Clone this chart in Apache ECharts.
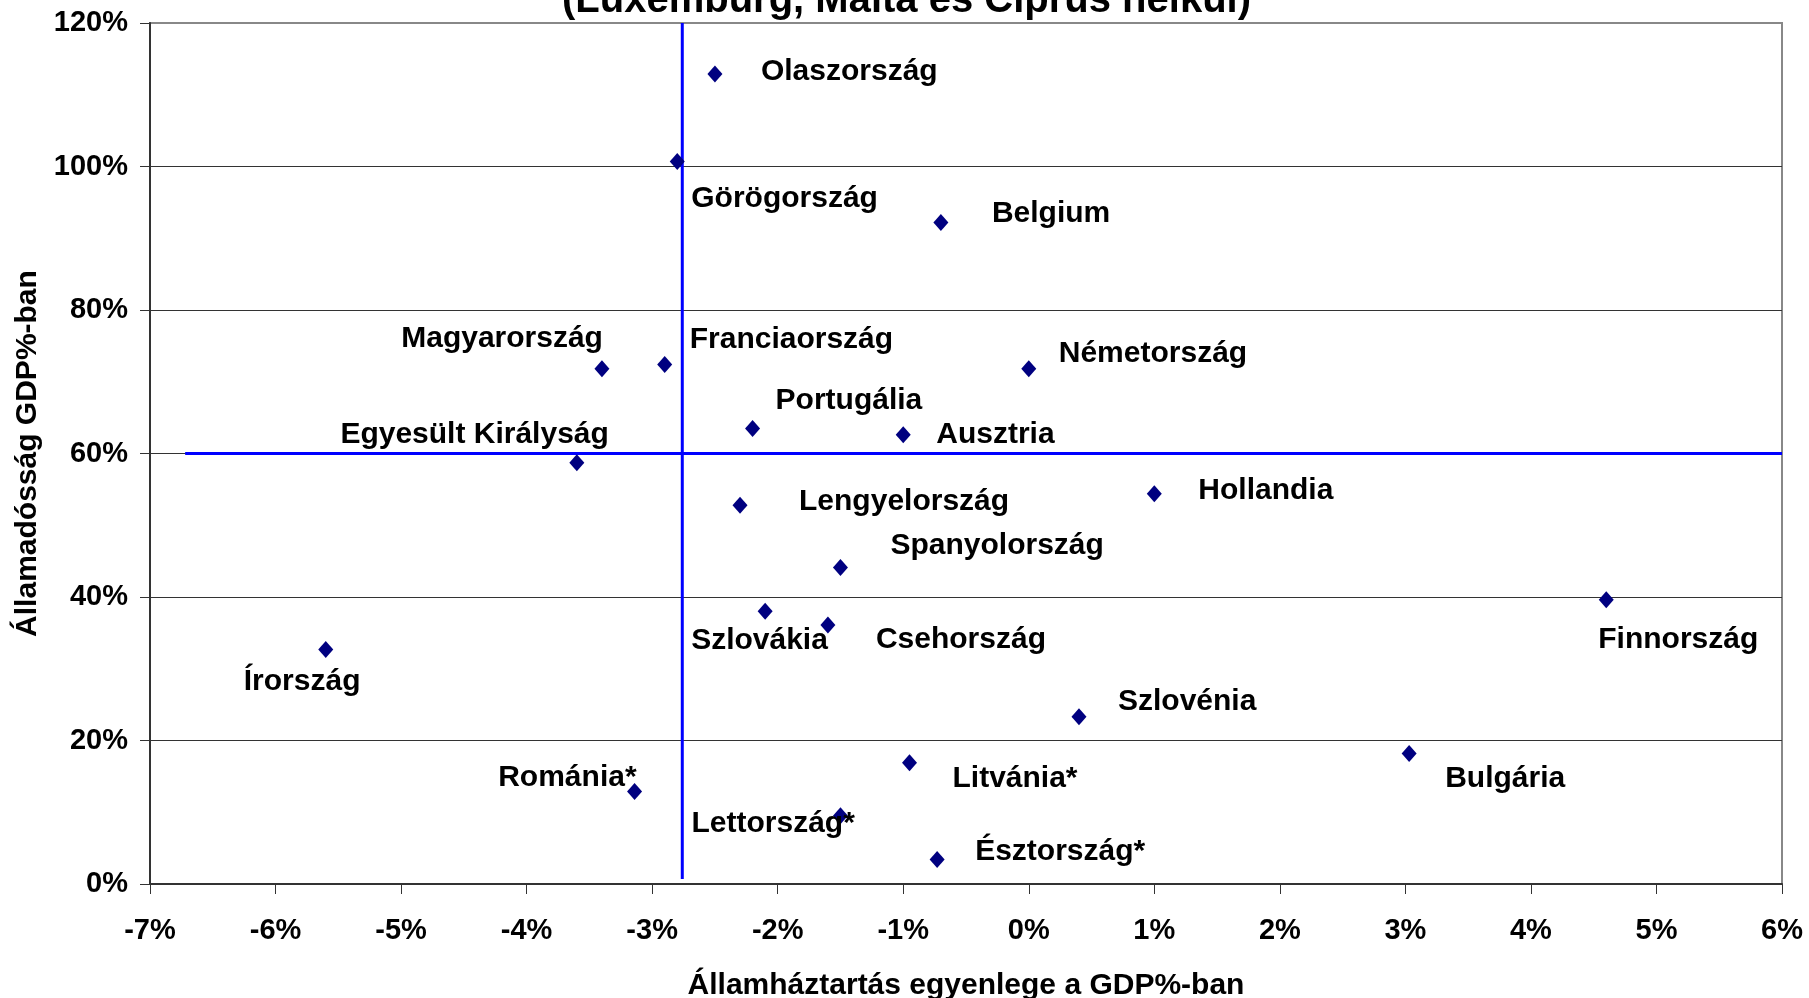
<!DOCTYPE html>
<html>
<head>
<meta charset="utf-8">
<script src="https://cdn.jsdelivr.net/npm/echarts@6/dist/echarts.min.js"></script>
<style>
html,body{margin:0;padding:0;background:#fff;}
#chart{width:1809px;height:998px;}
</style>
</head>
<body>
<div id="chart"></div>
<script>
// ---- data ----
const titleText = '(Luxemburg, Málta és Ciprus nélkül)';
const xAxisName = 'Államháztartás egyenlege a GDP%-ban';
const yAxisName = 'Államadósság GDP%-ban';
const countries = ['Olaszország','Görögország','Belgium','Magyarország','Franciaország','Németország','Portugália','Ausztria','Egyesült Királyság','Lengyelország','Hollandia','Spanyolország','Finnország','Szlovákia','Csehország','Írország','Szlovénia','Bulgária','Litvánia*','Románia*','Lettország*','Észtország*'];
const balance = [-2.5,-2.8,-0.7,-3.4,-2.9,0.0,-2.2,-1.0,-3.6,-2.3,1.0,-1.5,4.6,-2.1,-1.6,-5.6,0.4,3.03,-0.95,-3.14,-1.5,-0.73];
const debt = [112.9,100.7,92.2,71.8,72.4,71.8,63.5,62.6,58.7,52.8,54.4,44.1,39.6,38.0,36.1,32.7,23.3,18.2,16.9,12.9,9.5,3.4];
const xTicks = {min:-7, max:6, step:1};
const yTicks = {min:0, max:120, step:20};
const refBalance = -2.76;   // vertical reference line
const refDebt = 60;         // horizontal reference line
const refLineX = [-6.72, 6];
const refLineY = [0.7, 120];

// ---- label placement (layout only) ----
// [align, dx, dy] relative to marker centre
const placement = {
  'Olaszország':['left',46,-2],
  'Görögország':['left',14,37],
  'Belgium':['left',51,-9],
  'Magyarország':['right',1,-30],
  'Franciaország':['left',25,-25],
  'Németország':['left',30,-15],
  'Portugália':['left',23,-28],
  'Ausztria':['left',33,0],
  'Egyesült Királyság':['right',32,-28],
  'Lengyelország':['left',59,-3],
  'Hollandia':['left',44,-3],
  'Spanyolország':['left',50,-22],
  'Finnország':['left',-8,40],
  'Szlovákia':['left',-74,29],
  'Csehország':['left',48,15],
  'Írország':['left',-82,32],
  'Szlovénia':['left',39,-15],
  'Bulgária':['left',36,25],
  'Litvánia*':['left',43,16],
  'Románia*':['right',2,-14],
  'Lettország*':['left',-149,8],
  'Észtország*':['left',38,-8]
};

const FONT = "'Liberation Sans', Arial, sans-serif";

const points = countries.map((c,i)=>{
  const p = placement[c];
  return {
    name: c,
    value: [balance[i], debt[i]],
    label: {
      show: true,
      position: 'inside',
      align: p[0],
      verticalAlign: 'middle',
      offset: [p[1], p[2]],
      formatter: c,
      fontFamily: FONT,
      fontWeight: 'bold',
      fontSize: 30,
      color: '#000000',
      textBorderWidth: 0,
      textBorderColor: 'transparent',
      textShadowBlur: 0
    }
  };
});

const chart = echarts.init(document.getElementById('chart'), null, {renderer:'canvas'});
chart.setOption({
  backgroundColor: '#ffffff',
  animation: false,
  textStyle: {fontFamily: FONT},
  grid: {left:150, right:27, top:23, bottom:114, containLabel:false, outerBoundsMode:'none',
         show:true, borderColor:'#888888', borderWidth:2, backgroundColor:'transparent'},
  graphic: [{
    type:'text', left: 911 - 349, top: -19,
    style:{text:titleText, font:"bold 40px 'Liberation Sans', Arial, sans-serif", fill:'#000'}
  }],
  xAxis: {
    type:'value', min:xTicks.min, max:xTicks.max, interval:xTicks.step,
    name: xAxisName, nameLocation:'middle', nameGap:87,
    nameTextStyle:{fontFamily:FONT, fontWeight:'bold', fontSize:30, color:'#000'},
    axisLine:{show:true, onZero:false, lineStyle:{color:'#333', width:2}},
    axisTick:{show:true, length:10, lineStyle:{color:'#333', width:1}},
    axisLabel:{formatter:v=>v+'%', fontFamily:FONT, fontWeight:'bold', fontSize:29, color:'#000', margin:32},
    splitLine:{show:false}
  },
  yAxis: {
    type:'value', min:yTicks.min, max:yTicks.max, interval:yTicks.step,
    name: yAxisName, nameLocation:'middle', nameGap:106, nameRotate:90,
    nameTextStyle:{fontFamily:FONT, fontWeight:'bold', fontSize:30, color:'#000'},
    axisLine:{show:true, onZero:false, lineStyle:{color:'#333', width:2}},
    axisTick:{show:true, length:10, lineStyle:{color:'#333', width:1}},
    axisLabel:{formatter:v=>v+'%', fontFamily:FONT, fontWeight:'bold', fontSize:29, color:'#000', margin:22},
    splitLine:{show:true, showMinLine:false, showMaxLine:false, lineStyle:{color:'#333', width:1}}
  },
  series: [
    {
      type:'line', data:[[refLineX[0], refDebt],[refLineX[1], refDebt]],
      symbol:'none', lineStyle:{color:'#0000FF', width:3}, silent:true, z:3
    },
    {
      type:'line', data:[[refBalance, refLineY[0]],[refBalance, refLineY[1]]],
      symbol:'none', lineStyle:{color:'#0000FF', width:3}, silent:true, z:3
    },
    {
      type:'scatter', data: points, symbol:'diamond', symbolSize:[15,17],
      itemStyle:{color:'#000080', opacity:1}, z:5
    }
  ]
});
</script>
</body>
</html>
